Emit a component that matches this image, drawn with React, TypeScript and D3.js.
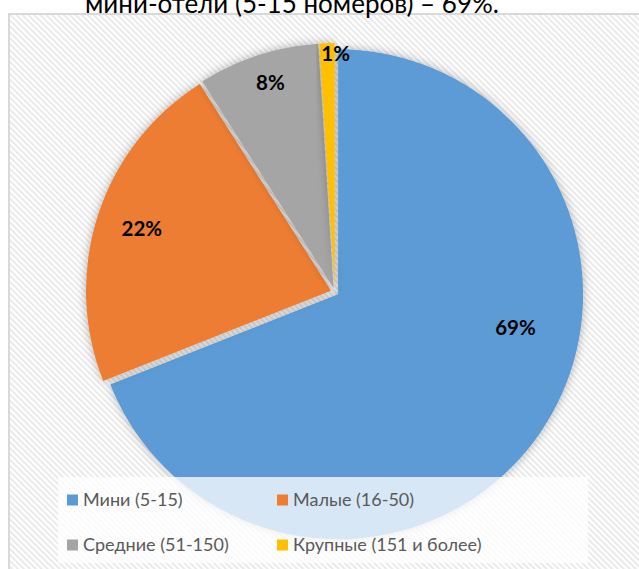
import React from "react";
import * as d3 from "d3";

const categories = ["Мини (5-15)", "Малые (16-50)", "Средние (51-150)", "Крупные (151 и более)"];
const values = [69, 22, 8, 1];
const percentLabels = ["69%", "22%", "8%", "1%"];
const colors = ["#5B9BD5", "#ED7D31", "#A5A5A5", "#FFC000"];
const titleText = "мини-отели (5-15 номеров) – 69%.";

const W = 639;
const H = 569;
const CX = 334.8;
const CY = 292;
const R = 245;
const EXPLODE = 4;
const LABEL_R = [0.752, 0.829, 0.893, 0.975];
const LABEL_SHIFT_DEG = [-22.9, 0.2, 0.9, 2];
const FONT = "Lato, 'Open Sans', sans-serif";

export default function App() {
  const pie = d3.pie<number>().sort(null).value((d) => d);
  const arcs = pie(values);
  const arcGen = d3.arc<d3.PieArcDatum<number>>().innerRadius(0).outerRadius(R);

  const legendCols = [67, 277];
  const legendRows = [500, 545];

  return (
    <svg
      width={W}
      height={H}
      style={{ position: "absolute", left: 0, top: 0, display: "block" }}
      fontFamily={FONT}
    >
      <defs>
        <pattern
          id="stripes"
          width="4.2"
          height="4.2"
          patternUnits="userSpaceOnUse"
          patternTransform="rotate(-45)"
        >
          <rect width="4.2" height="4.2" fill="#ffffff" />
          <rect width="2" height="4.2" fill="#eaeaea" />
        </pattern>
        <filter id="shadow" x="-20%" y="-20%" width="140%" height="140%">
          <feDropShadow dx="0" dy="0" stdDeviation="5" floodColor="#000" floodOpacity="0.3" />
        </filter>
      </defs>
      <rect x={0} y={0} width={W} height={H} fill="#ffffff" />
      <rect x={9} y={14} width={W} height={H} fill="url(#stripes)" stroke="#d9d9d9" strokeWidth={2} />

      <text x={85} y={13} fontSize={26} fill="#000" fontFamily={FONT}>
        {titleText}
      </text>

      <g>
        {arcs.map((a, i) => {
          const mid = (a.startAngle + a.endAngle) / 2;
          const dx = Math.sin(mid) * EXPLODE;
          const dy = -Math.cos(mid) * EXPLODE;
          return (
            <path
              key={categories[i]}
              d={arcGen(a) || ""}
              transform={`translate(${CX + dx},${CY + dy})`}
              fill={colors[i]}
              filter="url(#shadow)"
            />
          );
        })}
      </g>

      <g>
        {arcs.map((a, i) => {
          const mid = (a.startAngle + a.endAngle) / 2 + (LABEL_SHIFT_DEG[i] * Math.PI) / 180;
          const rr = LABEL_R[i] * R;
          const x = CX + Math.sin(mid) * rr;
          const y = CY - Math.cos(mid) * rr;
          return (
            <text
              key={"l" + i}
              x={x}
              y={y}
              dy="0.36em"
              textAnchor="middle"
              fontSize={20.5}
              fontWeight="bold"
              fill="#000"
            >
              {percentLabels[i]}
            </text>
          );
        })}
      </g>

      <rect x={58} y={477} width={530} height={86} fill="#ffffff" fillOpacity={0.76} />
      <g>
        {categories.map((c, i) => {
          const x = legendCols[i % 2];
          const y = legendRows[Math.floor(i / 2)];
          return (
            <g key={"lg" + i}>
              <rect x={x} y={y - 5.5} width={11} height={11} fill={colors[i]} />
              <text x={x + 16} y={y} dy="0.36em" fontSize={18} fill="#595959">
                {c}
              </text>
            </g>
          );
        })}
      </g>
    </svg>
  );
}
